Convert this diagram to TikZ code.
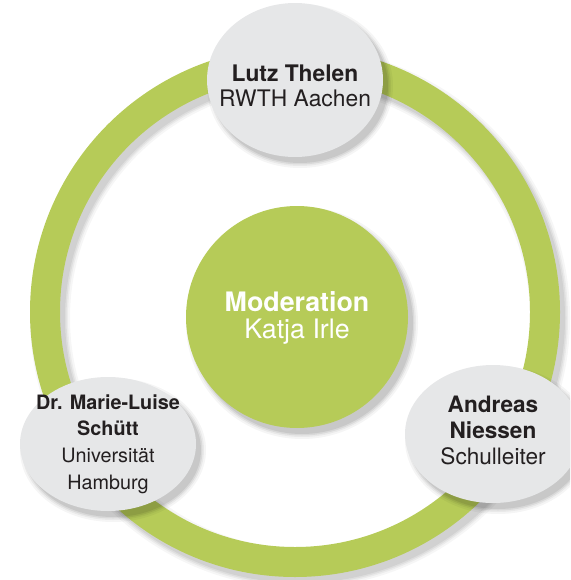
\documentclass[tikz,border=0pt]{standalone}
\usepackage{fontspec}
\setmainfont{TeX Gyre Heros}
\usetikzlibrary{shapes.geometric}
\definecolor{ringgreen}{RGB}{182,203,88}
\definecolor{discgrey}{RGB}{230,231,232}
\definecolor{txtblack}{RGB}{35,31,32}
\tikzset{
  disc/.style={ellipse, fill=discgrey, inner sep=0pt, outer sep=0pt},
  lbl/.style={align=center, text=txtblack, inner sep=0pt},
  shadowfill/.style={fill=black, opacity=#1},
}
\newcommand{\ellshadow}[4]{%
  \foreach \k/\o in {5/0.04,3/0.05,1.5/0.07,0/0.08}{%
    \fill[shadowfill=\o] (#1+5,#2+6) ellipse [x radius=#3pt+\k pt, y radius=#4pt+\k pt];}}
\begin{document}
\begin{tikzpicture}[x=1pt,y=-1pt]
\useasboundingbox (0,0) rectangle (570,580);
\clip (0,0) rectangle (570,580);
% ring shadow
\foreach \k/\o in {10/0.035,6/0.045,3/0.055,0/0.06}{%
  \draw[black, opacity=\o, line width=30pt+\k pt] (300,318) circle [radius=250pt];}
\node[circle, draw=ringgreen, line width=30pt, minimum size=500pt, inner sep=0pt] (ring) at (295,312) {};
% centre disc
\ellshadow{297}{317}{111}{111}
\node[circle, fill=ringgreen, minimum size=222pt, inner sep=0pt] (centre) at (297,317) {};
\node[align=center, text=white, inner sep=0pt, font=\fontsize{26.8}{27.5}\selectfont] (centrelabel) at (297,318)
  {\textbf{Moderation}\\Katja Irle};
% top disc
\ellshadow{295}{80}{88}{77}
\node[disc, minimum width=176pt, minimum height=154pt] (top) at (295,80) {};
\node[lbl, font=\fontsize{22.8}{25.5}\selectfont] (toplabel) at (295,86) {\textbf{Lutz Thelen}\\RWTH Aachen};
% left disc
\ellshadow{108}{444}{88}{67}
\node[disc, minimum width=176pt, minimum height=134pt] (left) at (108,444) {};
\node[lbl, font=\fontsize{19.8}{26.7}\selectfont] (leftlabel) at (108,444)
  {\textbf{Dr. Marie-Luise}\\\textbf{Schütt}\\Universität\\Hamburg};
% right disc
\ellshadow{493}{434}{88}{69}
\node[disc, minimum width=176pt, minimum height=138pt] (right) at (493,434) {};
\node[lbl, font=\fontsize{22.6}{26}\selectfont] (rightlabel) at (493,430)
  {\textbf{Andreas}\\\textbf{Niessen}\\Schulleiter};
\end{tikzpicture}
\end{document}
